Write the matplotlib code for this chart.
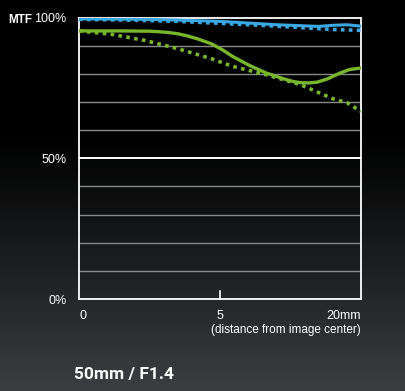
import numpy as np
import matplotlib
matplotlib.use("Agg")
import matplotlib.pyplot as plt

# distance from image center (axis units 0..20), MTF in %
blue_solid_x = [0, 5, 8, 10, 12, 14, 16, 17, 18, 19, 20]
blue_solid_y = [99.6, 99.4, 99.0, 98.7, 98.1, 97.5, 97.1, 96.9, 97.3, 97.5, 97.0]
blue_dot_x = [0, 4, 7, 10, 12, 14, 16, 18, 20]
blue_dot_y = [99.4, 99.1, 98.7, 98.0, 97.5, 97.0, 96.4, 95.8, 95.5]
green_solid_x = [0, 2.9, 5.0, 5.7, 6.4, 7.0, 7.7, 8.4, 9.4, 10.2, 10.9, 12.1, 13.3, 14.5, 15.2, 15.7, 16.3, 16.9, 17.6, 18.5, 19.2, 20]
green_solid_y = [95.3, 95.3, 95.2, 95.0, 94.7, 94.3, 93.5, 92.5, 90.7, 88.5, 86.2, 83.0, 80.3, 78.3, 77.3, 76.9, 76.8, 77.1, 78.2, 80.3, 81.6, 82.1]
green_dot_x = [0, 2.3, 4.7, 7.0, 9.4, 10.9, 13.3, 15.7, 18.0, 19.0, 20]
green_dot_y = [95.3, 94.1, 91.9, 89.0, 85.4, 82.7, 79.7, 76.2, 71.2, 69.8, 66.7]

x_ticks = [0, 10, 20]
x_labels = ["0", "5", "20mm"]
y_ticks = [0, 50, 100]
y_labels = ["0%", "50%", "100%"]

fig = plt.figure(figsize=(4.05, 3.91), dpi=100)

# background gradient: black on top, dark grey at the bottom
bg = fig.add_axes([0, 0, 1, 1])
grad = np.concatenate([np.zeros(33), np.linspace(0, 1, 67) ** 1.1])[:, None]
cmap = matplotlib.colors.LinearSegmentedColormap.from_list("bg", ["#000000", "#3b3e41"])
bg.imshow(grad, aspect="auto", cmap=cmap, extent=[0, 1, 0, 1], origin="upper")
bg.set_axis_off()

ax = fig.add_axes([79 / 405, 92 / 391, 282 / 405, 281.3 / 391])
ax.set_facecolor("none")
ax.set_xlim(0, 20)
ax.set_ylim(0, 100)

for v in range(10, 100, 10):
    if v == 50:
        ax.axhline(v, color="white", lw=1.4, zorder=1)
    else:
        ax.axhline(v, color="#8a8a8a", lw=1.0, zorder=1)

blue = "#3aa8e2"
green = "#78b62c"
ax.plot(blue_solid_x, blue_solid_y, color=blue, lw=2.2, zorder=3)
ax.plot(blue_dot_x, blue_dot_y, color=blue, lw=2.6, ls=(0, (1.0, 1.2)), dash_capstyle="butt", zorder=3)
ax.plot(green_solid_x, green_solid_y, color=green, lw=2.4, zorder=3)
ax.plot(green_dot_x, green_dot_y, color=green, lw=2.6, ls=(0, (1.0, 1.2)), dash_capstyle="butt", zorder=3)

for s in ax.spines.values():
    s.set_color("white")
    s.set_linewidth(1.3)

ax.set_xticks(x_ticks)
ax.set_xticklabels(x_labels)
ax.set_yticks(y_ticks)
ax.set_yticklabels(y_labels)
ax.tick_params(axis="y", length=0, pad=9, labelsize=9, labelcolor="white")
ax.tick_params(axis="x", direction="in", length=0, pad=8, labelsize=9, labelcolor="white")
for lab in ax.get_xticklabels():
    lab.set_fontfamily("Liberation Sans")
for lab in ax.get_yticklabels():
    lab.set_fontfamily("Liberation Sans")
ax.get_xticklabels()[0].set_ha("left")
ax.get_xticklabels()[2].set_ha("right")
# small tick at the middle mark
ax.plot([10, 10], [0, 3], color="white", lw=1.2, clip_on=False, zorder=4)

fig.text(8 / 405, 1 - 20 / 391, "MTF", color="white", fontsize=8.5, fontweight="bold",
         family="Liberation Sans", va="center", ha="left")
fig.text(361 / 405, 1 - 330 / 391, "(distance from image center)", color="white", fontsize=8.5,
         family="Liberation Sans", va="center", ha="right")
fig.text(74 / 405, 1 - 375 / 391, "50mm / F1.4", color="white", fontsize=12.5, fontweight="bold",
         family=["Roboto", "DejaVu Sans"], va="center", ha="left")

fig.savefig("out.png", dpi=100, facecolor="black")
